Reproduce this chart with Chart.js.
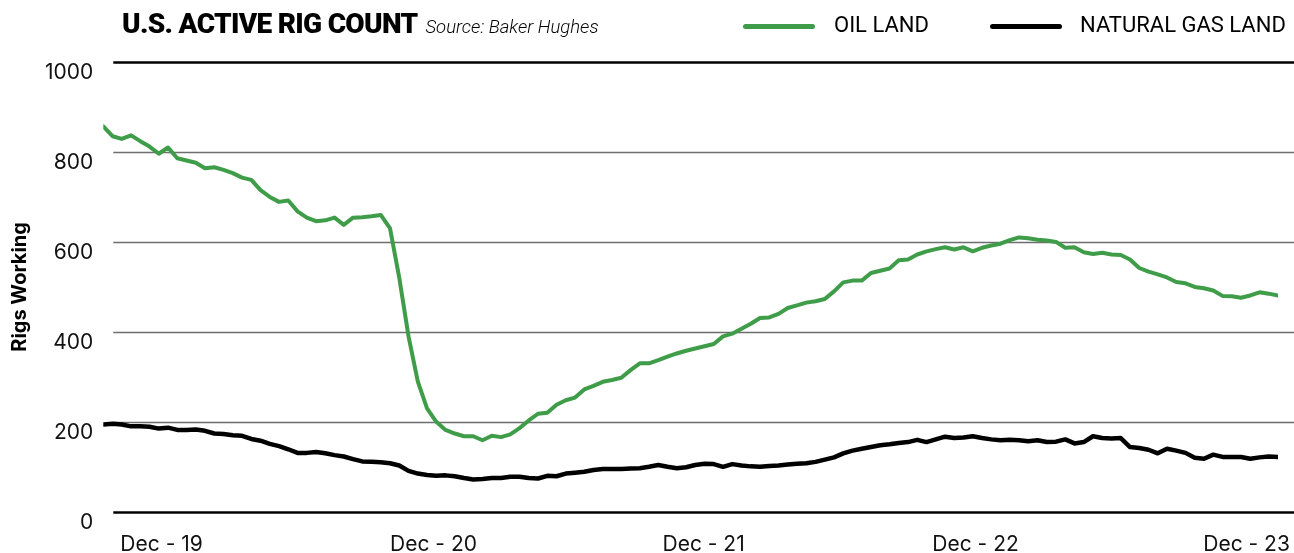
<!DOCTYPE html>
<html>
<head>
<meta charset="utf-8">
<title>U.S. Active Rig Count</title>
<script src="https://cdn.jsdelivr.net/npm/chart.js@4/dist/chart.umd.min.js"></script>
<style>
  html, body { margin: 0; padding: 0; background: #fff; }
  #wrap { position: relative; width: 1294px; height: 553px; overflow: hidden; font-family: Roboto, "Noto Sans", sans-serif; }
  #rigChart { position: absolute; left: 0; top: 0; }
  .title { position: absolute; left: 122px; top: 7px; white-space: nowrap; color: #000; }
  .title b { font-weight: 900; font-size: 28px; letter-spacing: -0.7px; }
  .title i { font-weight: 300; font-size: 18.5px; margin-left: 8px; }
  .legend { position: absolute; top: 12px; font-size: 22px; color: #000; white-space: nowrap; }
  .swatch { position: absolute; top: 24px; width: 72px; height: 5px; border-radius: 3px; }
</style>
</head>
<body>
<div id="wrap">
  <canvas id="rigChart" width="1294" height="553"></canvas>
  <div class="title"><b>U.S. ACTIVE RIG COUNT</b><i>Source: Baker Hughes</i></div>
  <div id="legendBox"></div>
</div>
<script>
// bi-weekly samples, oldest first
const oilLand = [
  857, 835, 829, 837, 824, 812, 796, 810, 786, 781,
  776, 764, 766, 760, 753, 743, 738, 715, 700, 689,
  692, 668, 654, 646, 648, 654, 638, 654, 655, 657,
  660, 630, 520, 390, 290, 230, 200, 182, 174, 168,
  168, 159, 169, 166, 172, 186, 203, 218, 220, 238,
  248, 254, 272, 280, 289, 293, 298, 315, 330, 330,
  337, 345, 352, 358, 363, 368, 373, 390, 396, 407,
  418, 431, 432, 440, 453, 459, 465, 468, 473, 490,
  510, 514, 514, 531, 536, 541, 559, 561, 572, 579,
  584, 588, 583, 588, 579, 587, 592, 596, 604, 610,
  608, 605, 603, 600, 587, 588, 577, 573, 576, 572,
  571, 561, 542, 534, 528, 521, 511, 508, 500, 497,
  492, 480, 479, 476, 481, 488, 485, 481
];
const gasLand = [
  194, 196, 194, 190, 190, 189, 185, 187, 182, 182,
  183, 180, 174, 173, 170, 169, 162, 158, 151, 146,
  139, 131, 131, 133, 130, 126, 123, 117, 112, 111,
  110, 108, 103, 91, 85, 82, 80, 81, 79, 75,
  72, 73, 75, 75, 78, 78, 75, 74, 80, 79,
  85, 87, 89, 93, 95, 95, 95, 96, 97, 100,
  104, 100, 97, 99, 104, 107, 106, 100, 106, 103,
  101, 100, 102, 103, 105, 107, 108, 111, 116, 121,
  130, 136, 140, 144, 148, 150, 153, 155, 160, 155,
  161, 167, 164, 165, 168, 164, 161, 159, 160, 159,
  157, 159, 155, 156, 161, 152, 155, 168, 164, 163,
  164, 144, 142, 138, 130, 140, 136, 131, 120, 118,
  127, 122, 122, 122, 118, 121, 123, 122
];
const seriesNames = ['OIL LAND', 'NATURAL GAS LAND'];
const seriesColors = ['#3f9c48', '#000000'];
const xTickLabels = ['Dec - 19', 'Dec - 20', 'Dec - 21', 'Dec - 22', 'Dec - 23'];
const xTickAt = [6.3, 35.7, 64.9, 94.3, 123.6];
const yTicks = [0, 200, 400, 600, 800, 1000];

const toPoints = arr => arr.map((v, i) => ({ x: i, y: v }));

// horizontal rules start a bit right of the plot edge and run to the page edge
const rulesPlugin = {
  id: 'rules',
  beforeDatasetsDraw(chart) {
    const { ctx } = chart;
    const y = chart.scales.y;
    ctx.save();
    yTicks.forEach(v => {
      const py = Math.round(y.getPixelForValue(v)) + 0.5;
      const edge = v === 0 || v === 1000;
      ctx.strokeStyle = edge ? '#000' : '#6e6e6e';
      ctx.lineWidth = edge ? 2.5 : 1.5;
      ctx.beginPath();
      ctx.moveTo(chart.chartArea.left + 10, py);
      ctx.lineTo(chart.width, py);
      ctx.stroke();
    });
    ctx.restore();
  }
};

const chart = new Chart(document.getElementById('rigChart'), {
  type: 'line',
  data: {
    datasets: [
      {
        label: seriesNames[0],
        data: toPoints(oilLand),
        borderColor: seriesColors[0],
        borderWidth: 4,
        pointRadius: 0,
        tension: 0,
        borderJoinStyle: 'round',
        borderCapStyle: 'round'
      },
      {
        label: seriesNames[1],
        data: toPoints(gasLand),
        borderColor: seriesColors[1],
        borderWidth: 4.5,
        pointRadius: 0,
        tension: 0,
        borderJoinStyle: 'round',
        borderCapStyle: 'round'
      }
    ]
  },
  options: {
    responsive: false,
    animation: false,
    devicePixelRatio: 1,
    layout: { padding: { top: 62, left: 0, right: 16, bottom: -24 } },
    plugins: {
      legend: { display: false },
      tooltip: { enabled: false }
    },
    scales: {
      x: {
        type: 'linear',
        min: 0,
        max: oilLand.length - 1,
        grid: { display: false, drawTicks: false },
        border: { display: false },
        afterBuildTicks: scale => { scale.ticks = xTickAt.map(v => ({ value: v })); },
        // labels may overhang the plot edges, like the original
        afterFit: scale => { scale.paddingLeft = 0; scale.paddingRight = 0; },
        ticks: {
          autoSkip: false,
          maxRotation: 0,
          padding: 20,
          color: '#111',
          font: { family: 'Inter', size: 21 },
          callback: (value) => xTickLabels[xTickAt.indexOf(value)]
        }
      },
      y: {
        min: 0,
        max: 1000,
        grid: { display: false, drawTicks: false },
        border: { display: false },
        afterBuildTicks: scale => { scale.ticks = yTicks.map(v => ({ value: v })); },
        ticks: {
          padding: 10,
          labelOffset: 11,
          color: '#111',
          font: { family: 'Inter', size: 21 },
          callback: value => String(value)
        },
        title: {
          display: true,
          text: 'Rigs Working',
          color: '#000',
          padding: { top: 8, bottom: 3 },
          font: { family: 'Inter', size: 20, weight: 'bold' }
        }
      }
    }
  },
  plugins: [rulesPlugin]
});

// legend built from the dataset names/colours
const legendSpots = [[743, 834], [990, 1080]];
const box = document.getElementById('legendBox');
chart.data.datasets.forEach((ds, i) => {
  const sw = document.createElement('div');
  sw.className = 'swatch';
  sw.style.left = legendSpots[i][0] + 'px';
  sw.style.background = ds.borderColor;
  box.appendChild(sw);
  const tx = document.createElement('div');
  tx.className = 'legend';
  tx.style.left = legendSpots[i][1] + 'px';
  tx.textContent = ds.label;
  box.appendChild(tx);
});
</script>
</body>
</html>
